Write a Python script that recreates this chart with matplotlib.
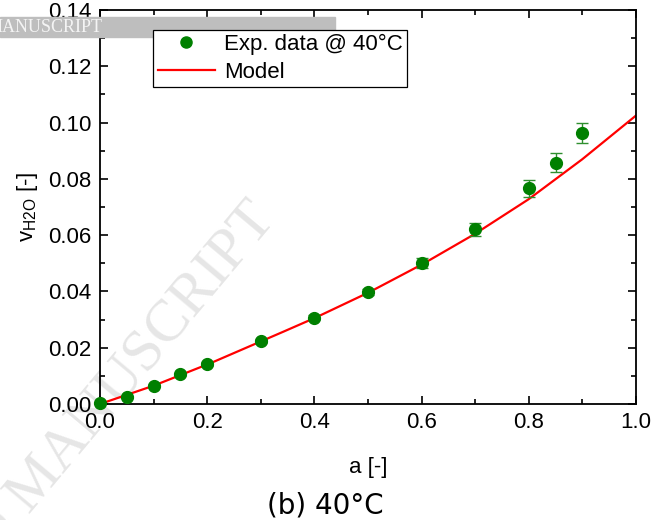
import numpy as np
import matplotlib; matplotlib.use("Agg"); import matplotlib.pyplot as plt
from matplotlib.ticker import MultipleLocator
from matplotlib.lines import Line2D

plt.rcParams["font.family"] = ["Liberation Sans", "DejaVu Sans"]

# experimental data
a_exp = [0.0, 0.05, 0.1, 0.15, 0.2, 0.3, 0.4, 0.5, 0.6, 0.7, 0.8, 0.85, 0.9]
v_exp = [0.0005, 0.0025, 0.0065, 0.0105, 0.0143, 0.0223, 0.0307, 0.0398, 0.0502, 0.0621, 0.0766, 0.0857, 0.0963]
v_err = [0.0003, 0.0004, 0.0005, 0.0006, 0.0007, 0.0008, 0.0009, 0.0012, 0.0017, 0.0023, 0.0031, 0.0034, 0.0037]
# model curve
a_mod = [0.0, 0.1, 0.2, 0.3, 0.4, 0.5, 0.6, 0.7, 0.8, 0.9, 1.0]
v_mod = [0.0, 0.0065, 0.0140, 0.0222, 0.0305, 0.0395, 0.0495, 0.0605, 0.0728, 0.0870, 0.1025]

fig = plt.figure(figsize=(6.51, 5.2), dpi=100)
ax = fig.add_axes([100/651, 116/520, 536/651, 394/520])
ax.patch.set_alpha(0)

# watermark
fig.text(266/651, 1 - 210/520, "ACCEPTED MANUSCRIPT", rotation=50, rotation_mode="anchor",
         fontsize=43, color="#e6e6e6", family="Liberation Serif", ha="right", va="center", zorder=-1)
ax.add_patch(plt.Rectangle((0, 483/520), 335/651, 20/520, transform=fig.transFigure,
                           color="#bebebe", zorder=4, clip_on=False))
ax.text(103/651, 492/520, "MANUSCRIPT", fontsize=13, color="#f4f4f4", family="Liberation Serif",
        ha="right", va="center", transform=fig.transFigure, zorder=4.1)

xs = np.linspace(0, 1, 200)
ax.plot(xs, np.interp(xs, a_mod, v_mod), color="red", lw=1.6, zorder=2)
ax.errorbar(a_exp, v_exp, yerr=v_err, fmt="o", color="green", ecolor="#2f8f2f", ms=8.5,
            capsize=4.3, elinewidth=1, capthick=1, zorder=3, clip_on=False)

ax.set_xlim(0, 1); ax.set_ylim(0, 0.14)
ax.xaxis.set_major_locator(MultipleLocator(0.2)); ax.xaxis.set_minor_locator(MultipleLocator(0.1))
ax.yaxis.set_major_locator(MultipleLocator(0.02)); ax.yaxis.set_minor_locator(MultipleLocator(0.01))
ax.xaxis.set_major_formatter(lambda v, p: f"{v:.1f}")
ax.yaxis.set_major_formatter(lambda v, p: f"{v:.2f}")
ax.tick_params(which="both", direction="in", top=True, right=True, labelsize=16, width=1.2)
ax.tick_params(which="major", length=6); ax.tick_params(which="minor", length=3.5)
ax.tick_params(axis="x", pad=6); ax.tick_params(axis="y", pad=6)
for s in ax.spines.values(): s.set_linewidth(1.3)

ax.set_xlabel("a [-]", fontsize=16, labelpad=17)
ax.set_ylabel(r"v$_{\mathregular{H2O}}$ [-]", fontsize=16, labelpad=6)

handles = [Line2D([], [], ls="none", marker="o", color="green", ms=8),
           Line2D([], [], color="red", lw=1.6)]
leg = ax.legend(handles, ["Exp. data @ 40°C", "Model"], loc="upper left",
                bbox_to_anchor=(0.099, 0.95), fontsize=16, fancybox=False, edgecolor="black",
                framealpha=1, handlelength=2.6, borderpad=0.2, borderaxespad=0,
                labelspacing=0.3, handletextpad=0.4)
leg.get_frame().set_linewidth(0.9)
leg.set_zorder(5)

fig.text(0.5, 0.028, "(b) 40°C", fontsize=20, family="DejaVu Sans", ha="center", va="center")

plt.savefig("out.png", dpi=100)
